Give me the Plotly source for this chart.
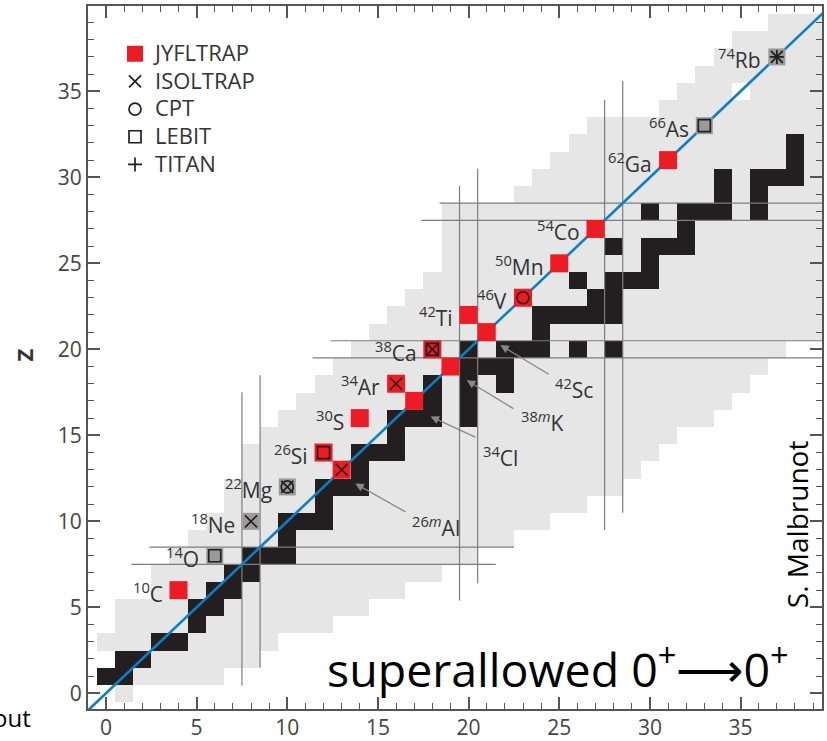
import numpy as np
import plotly.graph_objects as go

# ---- chart of nuclides: neutron number N (x) vs proton number Z (y) ----
Z_ROWS = list(range(0, 40))
# lightest / heaviest known neutron number for every Z row
N_MIN = [1, 0, 1, 0, 1, 1, 3, 3, 4, 5,
         6, 7, 7, 8, 8, 9, 10, 11, 12, 13,
         14, 15, 16, 17, 18, 19, 19, 19, 19, 23,
         24, 25, 26, 27, 31, 32, 33, 34, 35, 37]
N_MAX = [1, 6, 8, 9, 12, 14, 16, 18, 20, 22,
         24, 26, 28, 29, 30, 31, 33, 34, 35, 36,
         37, 40, 40, 40, 40, 40, 40, 40, 40, 40,
         40, 40, 40, 40, 40, 40, 40, 40, 40, 40]
UNKNOWN = [(35, 35)]  # (N, Z) gaps inside the known region

# stable nuclides, neutron numbers per Z
STABLE = {
    1: [0, 1], 2: [1, 2], 3: [3, 4], 4: [5], 5: [5, 6], 6: [6, 7], 7: [7, 8],
    8: [8, 9, 10], 9: [10], 10: [10, 11, 12], 11: [12], 12: [12, 13, 14],
    13: [14], 14: [14, 15, 16], 15: [16], 16: [16, 17, 18, 20], 17: [18, 20],
    18: [18, 20, 22], 19: [20, 21, 22], 20: [20, 22, 23, 24, 26, 28],
    21: [24], 22: [24, 25, 26, 27, 28], 23: [27, 28], 24: [26, 28, 29, 30],
    25: [30], 26: [28, 30, 31, 32], 27: [32], 28: [30, 32, 33, 34, 36],
    29: [34, 36], 30: [34, 36, 37, 38], 31: [38], 32: [38],
}

# superallowed emitters (N, Z)
JYFL_N = [4, 12, 13, 14, 16, 17, 18, 19, 20, 21, 23, 25, 27, 31]
JYFL_Z = [6, 14, 13, 16, 18, 17, 20, 19, 22, 21, 23, 25, 27, 31]
OTHER_N = [6, 8, 10, 33, 37]
OTHER_Z = [8, 10, 12, 33, 37]

# Penning-trap facilities that measured each case
ISOLTRAP = [(8, 10), (10, 12), (13, 13), (16, 18), (18, 20), (37, 37)]
CPT = [(23, 23), (10, 12)]
LEBIT = [(6, 8), (12, 14), (18, 20), (33, 33)]
TITAN = [(37, 37)]

SIDE_LABELS = [  # label, N, Z  (written left of the square)
    ("<sup>10</sup>C", 4, 6), ("<sup>14</sup>O", 6, 8), ("<sup>18</sup>Ne", 8, 10),
    ("<sup>22</sup>Mg", 10, 12), ("<sup>26</sup>Si", 12, 14), ("<sup>30</sup>S", 14, 16),
    ("<sup>34</sup>Ar", 16, 18), ("<sup>38</sup>Ca", 18, 20), ("<sup>42</sup>Ti", 20, 22),
    ("<sup>46</sup>V", 23, 23), ("<sup>50</sup>Mn", 25, 25), ("<sup>54</sup>Co", 27, 27),
    ("<sup>62</sup>Ga", 31, 31), ("<sup>66</sup>As", 33, 33), ("<sup>74</sup>Rb", 37, 37),
]
# labels below the diagonal with a pointer: text, text N/Z, tail N/Z, tip N/Z
POINTER_LABELS = [
    ("<sup>26<i>m</i></sup>Al", 16.75, 9.8, 16.6, 10.5, 13.75, 12.2),
    ("<sup>34</sup>Cl", 20.7, 13.9, 20.45, 14.85, 17.9, 16.1),
    ("<sup>38<i>m</i></sup>K", 22.8, 15.9, 22.55, 16.5, 19.9, 18.2),
    ("<sup>42</sup>Sc", 24.65, 17.85, 24.5, 18.5, 21.75, 20.25),
]

# magic-number guide lines: orientation, position, start, end
MAGIC_LINES = [
    ("v", 7.5, 0.45, 17.5), ("v", 8.5, 1.5, 18.5),
    ("v", 19.5, 5.4, 29.5), ("v", 20.5, 6.4, 30.5),
    ("v", 27.5, 9.5, 34.5), ("v", 28.5, 10.5, 35.6),
    ("h", 7.5, 1.4, 21.5), ("h", 8.5, 2.4, 22.5),
    ("h", 19.5, 11.4, 41), ("h", 20.5, 12.4, 41),
    ("h", 27.5, 17.4, 41), ("h", 28.5, 18.4, 41),
]

X_RANGE = [-0.99, 39.49]
Y_RANGE = [-0.91, 39.96]

# ---- grids ----
N_AXIS = np.arange(-1, 42)
Z_AXIS = np.arange(-1, 42)
known = np.full((len(Z_AXIS), len(N_AXIS)), np.nan)
for z, lo, hi in zip(Z_ROWS, N_MIN, N_MAX):
    known[z + 1, lo + 1:hi + 2] = 1.0
for n, z in UNKNOWN:
    known[z + 1, n + 1] = np.nan
stable = np.full_like(known, np.nan)
for z, ns in STABLE.items():
    for n in ns:
        stable[z + 1, n + 1] = 1.0

LIGHT = "#e6e6e6"
BLACK = "#231f20"
RED = "#ed1c24"
GREY_SQ = "#9a9a9a"
GUIDE = "#7d7d7d"
INK = "#333333"
FONT = "Open Sans"

fig = go.Figure()
fig.add_trace(go.Heatmap(x=N_AXIS, y=Z_AXIS, z=known, colorscale=[[0, LIGHT], [1, LIGHT]],
                         showscale=False, hoverinfo="skip"))

gx, gy = [], []
for kind, pos, a, b in MAGIC_LINES:
    if kind == "v":
        gx += [pos, pos, None]; gy += [a, b, None]
    else:
        gx += [a, b, None]; gy += [pos, pos, None]
fig.add_trace(go.Scatter(x=gx, y=gy, mode="lines", line=dict(color=GUIDE, width=1.2),
                         showlegend=False, hoverinfo="skip"))

fig.add_trace(go.Heatmap(x=N_AXIS, y=Z_AXIS, z=stable, colorscale=[[0, BLACK], [1, BLACK]],
                         showscale=False, hoverinfo="skip"))

# N = Z line
fig.add_trace(go.Scatter(x=[X_RANGE[0] - 1, X_RANGE[1] + 1], y=[X_RANGE[0] - 1, X_RANGE[1] + 1],
                         mode="lines", line=dict(color="#0d7fc6", width=2.6),
                         showlegend=False, hoverinfo="skip"))

fig.add_trace(go.Scatter(x=OTHER_N, y=OTHER_Z, mode="markers",
                         marker=dict(symbol="square", size=17, color=GREY_SQ, line=dict(width=0)),
                         showlegend=False, hoverinfo="skip"))


def legend_name(s):
    return "<span style='font-size:22px'>" + s + "</span>"


fig.add_trace(go.Scatter(x=JYFL_N, y=JYFL_Z, mode="markers", name=legend_name("JYFLTRAP"),
                         marker=dict(symbol="square", size=18, color=RED, line=dict(width=0))))


def sym_trace(pts, name, symbol, size):
    return go.Scatter(x=[p[0] for p in pts], y=[p[1] for p in pts], mode="markers",
                      name=legend_name(name),
                      marker=dict(symbol=symbol, size=size, color=BLACK,
                                  line=dict(color=BLACK, width=1.7)))


fig.add_trace(sym_trace(ISOLTRAP, "ISOLTRAP", "x-thin", 12))
fig.add_trace(sym_trace(CPT, "CPT", "circle-open", 12))
fig.add_trace(sym_trace(LEBIT, "LEBIT", "square-open", 12))
fig.add_trace(sym_trace(TITAN, "TITAN", "cross-thin", 10))

LABEL_SIZE = 21
ann = []
for text, n, z in SIDE_LABELS:
    ann.append(dict(x=n - 0.75, y=z, xref="x", yref="y", text=text, showarrow=False,
                    xanchor="right", yanchor="middle", yshift=-2,
                    font=dict(family=FONT, size=LABEL_SIZE, color=INK)))
for text, tn, tz, an, az, pn, pz in POINTER_LABELS:
    ann.append(dict(x=pn, y=pz, ax=an, ay=az, xref="x", yref="y", axref="x", ayref="y",
                    text="", showarrow=True, arrowhead=2, arrowsize=1.3, arrowwidth=1.3,
                    arrowcolor="#888888", standoff=0, startstandoff=0))
    ann.append(dict(x=tn, y=tz, xref="x", yref="y", text=text, showarrow=False,
                    xanchor="left", yanchor="middle", yshift=-2,
                    font=dict(family=FONT, size=LABEL_SIZE, color=INK)))

ann.append(dict(x=0.323, y=0.06, xref="paper", yref="paper", xanchor="left", yanchor="middle",
                text="superallowed 0<sup>+</sup>\u27f60<sup>+</sup>", showarrow=False,
                font=dict(family=FONT, size=46.5, color="#000000")))
ann.append(dict(x=0.966, y=0.263, xref="paper", yref="paper", xanchor="center", yanchor="middle",
                text="S. Malbrunot", textangle=-90, showarrow=False,
                font=dict(family=FONT, size=28, color="#000000")))
ann.append(dict(x=-0.075, y=-0.012, xref="paper", yref="paper", xanchor="right", yanchor="middle",
                text="out", showarrow=False, font=dict(family=FONT, size=24, color="#000000")))
ann.append(dict(x=-0.087, y=0.503, xref="paper", yref="paper", xanchor="center", yanchor="middle",
                text="<b>Z</b>", textangle=-90, showarrow=False,
                font=dict(family=FONT, size=22, color="#333333")))

axis_common = dict(showgrid=False, zeroline=False, showline=True, linecolor="#555555", linewidth=2,
                   mirror="ticks", ticks="inside", ticklen=12, tickwidth=1.5, tickcolor="#555555",
                   tickvals=[0, 5, 10, 15, 20, 25, 30, 35], automargin=False,
                   tickfont=dict(family=FONT, size=21, color="#444444"),
                   minor=dict(dtick=1, ticks="inside", ticklen=6, tickwidth=1.2, tickcolor="#555555"))

fig.update_layout(
    width=827, height=741, margin=dict(l=88, r=5, t=6, b=32),
    paper_bgcolor="white", plot_bgcolor="white",
    xaxis=dict(range=X_RANGE, ticklabelstandoff=-1, **axis_common),
    yaxis=dict(range=Y_RANGE, **axis_common),
    legend=dict(x=0.0368, y=0.959, xanchor="left", yanchor="top", bgcolor="rgba(0,0,0,0)",
                font=dict(family=FONT, size=19, color="#333333"), itemsizing="trace",
                tracegroupgap=0),
    annotations=ann,
)

fig.write_html("out.html")
